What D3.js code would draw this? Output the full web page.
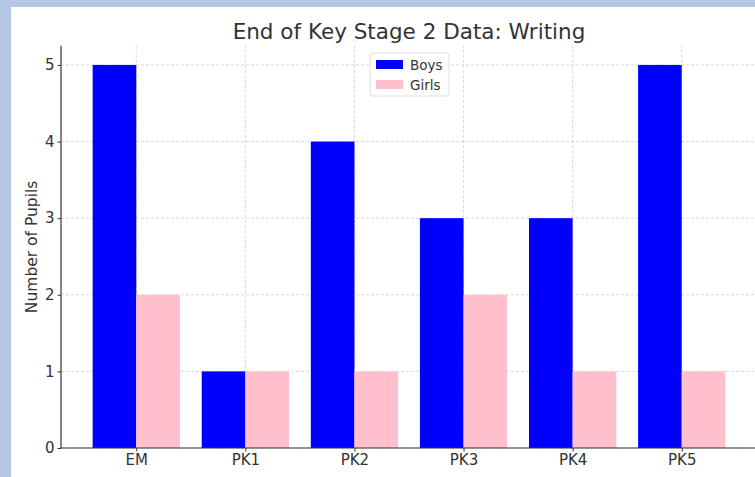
<!DOCTYPE html>
<html>
<head>
<meta charset="utf-8">
<script src="https://cdn.jsdelivr.net/npm/d3@7"></script>
<style>
  html, body { margin: 0; padding: 0; background: #b4c7e7; }
  svg { display: block; }
  text { font-family: "DejaVu Sans", sans-serif; fill: #333; }
</style>
</head>
<body>
<svg></svg>
<script>
var width = 755;
var height = 477;

var categories = ['EM', 'PK1', 'PK2', 'PK3', 'PK4', 'PK5'];
var boys = [5, 1, 4, 3, 3, 5];
var girls = [2, 1, 1, 2, 1, 1];
var yTicks = [0, 1, 2, 3, 4, 5];
var seriesNames = ['Boys', 'Girls'];
var seriesColors = ['#0000ff', '#ffc0cb'];

var svg = d3.select('svg')
  .attr('width', width)
  .attr('height', height);

// white page inside the blue frame
svg.append('rect')
  .attr('x', 11).attr('y', 7)
  .attr('width', width - 11).attr('height', height - 7)
  .attr('fill', 'white');

var margin = {left: 61, right: -2, top: 45.8, bottom: 29};

// index scale, bars at i-0.4..i and i..i+0.4, 5% padding like matplotlib
var x = d3.scaleLinear()
  .domain([-0.69, categories.length - 1 + 0.69])
  .range([margin.left, width - margin.right]);

var y = d3.scaleLinear()
  .domain([0, 5.25])
  .range([height - margin.bottom, margin.top]);

var barW = 0.4;

// grid
var grid = svg.append('g');
grid.selectAll('line.gy')
  .data(yTicks)
  .enter().append('line')
    .attr('x1', margin.left).attr('x2', width)
    .attr('y1', d => y(d)).attr('y2', d => y(d))
    .attr('stroke', '#cfcfcf')
    .attr('stroke-width', 0.8)
    .attr('stroke-dasharray', '3,2');
grid.selectAll('line.gx')
  .data(categories)
  .enter().append('line')
    .attr('x1', (d, i) => x(i)).attr('x2', (d, i) => x(i))
    .attr('y1', y(0)).attr('y2', margin.top)
    .attr('stroke', '#cfcfcf')
    .attr('stroke-width', 0.8)
    .attr('stroke-dasharray', '3,2');

// bars
svg.append('g')
  .selectAll('rect')
  .data(boys)
  .enter().append('rect')
    .attr('x', (d, i) => x(i - barW))
    .attr('width', (d, i) => x(i) - x(i - barW))
    .attr('y', d => y(d))
    .attr('height', d => y(0) - y(d))
    .attr('fill', seriesColors[0]);

svg.append('g')
  .selectAll('rect')
  .data(girls)
  .enter().append('rect')
    .attr('x', (d, i) => x(i))
    .attr('width', (d, i) => x(i + barW) - x(i))
    .attr('y', d => y(d))
    .attr('height', d => y(0) - y(d))
    .attr('fill', seriesColors[1]);

// axes
var xAxis = d3.axisBottom(x)
  .tickValues(d3.range(categories.length))
  .tickFormat(i => categories[i])
  .tickSize(3.5)
  .tickPadding(3);

var yAxis = d3.axisLeft(y)
  .tickValues(yTicks)
  .tickFormat(d3.format('d'))
  .tickSize(3.5)
  .tickPadding(3);

var gx = svg.append('g')
  .attr('transform', 'translate(0,' + y(0) + ')')
  .call(xAxis);
gx.select('.domain').remove();
gx.append('line')
  .attr('x1', margin.left).attr('x2', width)
  .attr('stroke', '#333').attr('stroke-width', 1.2);

var gy = svg.append('g')
  .attr('transform', 'translate(' + margin.left + ',0)')
  .call(yAxis);
gy.select('.domain').remove();
gy.append('line')
  .attr('y1', margin.top).attr('y2', y(0))
  .attr('stroke', '#333').attr('stroke-width', 1.2);

svg.selectAll('.tick line').attr('stroke', '#333');
svg.selectAll('.tick text')
  .style('font-size', '15px')
  .style('font-family', '"DejaVu Sans", sans-serif')
  .attr('fill', '#333');

// title
svg.append('text')
  .attr('x', (margin.left + 757) / 2)
  .attr('y', 39)
  .attr('text-anchor', 'middle')
  .attr('font-size', 21.5)
  .text('End of Key Stage 2 Data: Writing');

// y label
svg.append('text')
  .attr('transform', 'translate(37,' + ((margin.top + y(0)) / 2) + ') rotate(-90)')
  .attr('text-anchor', 'middle')
  .attr('font-size', 15.5)
  .text('Number of Pupils');

// legend
var legend = svg.append('g').attr('transform', 'translate(370,53)');
legend.append('rect')
  .attr('width', 79).attr('height', 43)
  .attr('rx', 3)
  .attr('fill', 'white')
  .attr('fill-opacity', 0.8)
  .attr('stroke', '#dcdcdc');
var items = legend.selectAll('g.item')
  .data(seriesNames)
  .enter().append('g')
    .attr('transform', (d, i) => 'translate(6,' + (7 + i * 20) + ')');
items.append('rect')
  .attr('width', 27).attr('height', 9)
  .attr('fill', (d, i) => seriesColors[i]);
items.append('text')
  .attr('x', 34).attr('y', 9.5)
  .attr('font-size', 13.5)
  .text(d => d);
</script>
</body>
</html>
